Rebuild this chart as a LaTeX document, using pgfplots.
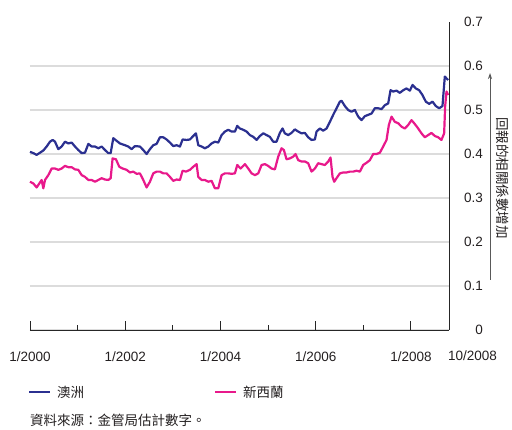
\documentclass[border=0pt]{standalone}
\usepackage{fontspec}
\setmainfont{Liberation Sans}
\newfontfamily\cjk{Noto Sans CJK TC}
\usepackage{pgfplots}
\pgfplotsset{compat=1.18}
\usetikzlibrary{arrows.meta}
\definecolor{aublue}{HTML}{2B3090}
\definecolor{nzpink}{HTML}{E8198B}
\definecolor{gridgray}{HTML}{DCDCDC}
\definecolor{txt}{HTML}{231F20}
\newcommand{\fs}{\fontsize{13.5}{16}\selectfont}
\begin{document}
\begin{tikzpicture}[x=1pt,y=1pt,font=\fs,text=txt]
\path[use as bounding box] (0,0) rectangle (512,429);
\begin{axis}[
  at={(30pt,99pt)}, anchor=south west,
  scale only axis, width=419pt, height=308pt,
  xmin=0, xmax=8.80, ymin=0, ymax=0.7,
  axis x line*=bottom, axis y line*=right,
  axis line style={-, draw=black!85, line width=0.9pt},
  xtick={0,2,4,6,8}, xticklabels={1/2000,1/2002,1/2004,1/2006,1/2008},
  minor xtick={1,3,5,7},
  tick align=inside,
  major tick length=9pt, minor tick length=5pt,
  x tick style={draw=black!85, line width=0.9pt},
  xticklabel style={font=\fs, text=txt, yshift=-18pt},
  ytick={0,0.1,0.2,0.3,0.4,0.5,0.6},
  yticklabels={0,0.1,0.2,0.3,0.4,0.5,0.6},
  extra y ticks={0.7}, extra y tick labels={0.7},
  extra y tick style={grid=none},
  ymajorgrids, grid style={gridgray, line width=2pt},
  y tick style={draw=none},
  yticklabel style={font=\fs, text=txt, anchor=east, xshift=37.5pt},
  clip=false,
]
\addplot[aublue, line width=2.2pt, line join=round] coordinates {
(0.000,0.405)(0.070,0.402)(0.140,0.398)(0.210,0.403)(0.280,0.408)(0.350,0.417)
(0.420,0.428)(0.476,0.432)(0.525,0.428)(0.595,0.411)(0.665,0.417)(0.735,0.428)
(0.805,0.424)(0.875,0.426)(0.945,0.417)(1.015,0.409)(1.085,0.402)(1.155,0.403)
(1.225,0.423)(1.295,0.417)(1.365,0.417)(1.435,0.413)(1.505,0.417)(1.575,0.409)
(1.645,0.402)(1.694,0.402)(1.749,0.436)(1.819,0.430)(1.889,0.424)(1.994,0.420)
(2.064,0.417)(2.134,0.411)(2.204,0.418)(2.309,0.417)(2.379,0.409)(2.449,0.400)
(2.519,0.411)(2.589,0.420)(2.659,0.423)(2.729,0.438)(2.799,0.438)(2.869,0.433)
(2.939,0.426)(3.009,0.418)(3.079,0.420)(3.149,0.417)(3.205,0.433)(3.289,0.432)
(3.359,0.433)(3.429,0.441)(3.485,0.447)(3.534,0.420)(3.604,0.417)(3.674,0.413)
(3.744,0.417)(3.814,0.424)(3.884,0.428)(3.954,0.426)(4.024,0.443)(4.094,0.451)
(4.164,0.455)(4.234,0.451)(4.304,0.451)(4.353,0.464)(4.409,0.458)(4.479,0.455)
(4.549,0.451)(4.619,0.443)(4.689,0.439)(4.759,0.432)(4.829,0.441)(4.899,0.447)
(4.969,0.443)(5.038,0.439)(5.108,0.428)(5.178,0.428)(5.248,0.448)(5.304,0.458)
(5.353,0.447)(5.423,0.443)(5.493,0.448)(5.563,0.456)(5.633,0.451)(5.703,0.447)
(5.773,0.448)(5.843,0.438)(5.913,0.432)(5.983,0.433)(6.018,0.451)(6.088,0.458)
(6.158,0.453)(6.228,0.458)(6.298,0.473)(6.368,0.489)(6.438,0.504)(6.508,0.519)
(6.543,0.521)(6.613,0.509)(6.683,0.500)(6.753,0.496)(6.823,0.500)(6.893,0.485)
(6.963,0.477)(7.033,0.486)(7.103,0.489)(7.173,0.492)(7.243,0.504)(7.313,0.504)
(7.383,0.502)(7.453,0.511)(7.523,0.515)(7.572,0.545)(7.628,0.542)(7.698,0.544)
(7.768,0.539)(7.838,0.545)(7.908,0.549)(7.978,0.544)(8.034,0.557)(8.104,0.549)
(8.173,0.545)(8.243,0.534)(8.313,0.519)(8.383,0.514)(8.453,0.519)(8.523,0.509)
(8.593,0.504)(8.663,0.509)(8.712,0.576)(8.747,0.572)(8.782,0.568)
};
\addplot[nzpink, line width=2.2pt, line join=round] coordinates {
(0.000,0.337)(0.070,0.333)(0.140,0.324)(0.196,0.333)(0.245,0.341)(0.280,0.322)
(0.315,0.341)(0.385,0.352)(0.455,0.367)(0.525,0.367)(0.595,0.364)(0.665,0.367)
(0.735,0.373)(0.805,0.370)(0.875,0.370)(0.945,0.365)(1.015,0.364)(1.085,0.352)
(1.155,0.348)(1.225,0.341)(1.295,0.341)(1.365,0.337)(1.435,0.341)(1.505,0.345)
(1.575,0.342)(1.645,0.341)(1.694,0.345)(1.735,0.390)(1.805,0.388)(1.875,0.371)
(1.945,0.367)(2.029,0.364)(2.099,0.358)(2.169,0.360)(2.239,0.355)(2.309,0.356)
(2.379,0.341)(2.449,0.324)(2.519,0.337)(2.589,0.356)(2.659,0.360)(2.729,0.360)
(2.799,0.356)(2.869,0.356)(2.939,0.348)(3.009,0.339)(3.079,0.342)(3.149,0.341)
(3.205,0.362)(3.275,0.360)(3.359,0.364)(3.429,0.371)(3.499,0.377)(3.534,0.348)
(3.604,0.341)(3.674,0.341)(3.744,0.337)(3.814,0.339)(3.884,0.322)(3.954,0.322)
(4.024,0.352)(4.094,0.356)(4.164,0.356)(4.234,0.355)(4.304,0.356)(4.353,0.375)
(4.423,0.367)(4.514,0.377)(4.584,0.367)(4.654,0.356)(4.724,0.352)(4.794,0.356)
(4.864,0.375)(4.934,0.377)(5.003,0.373)(5.073,0.367)(5.143,0.365)(5.213,0.394)
(5.283,0.413)(5.332,0.409)(5.388,0.388)(5.458,0.390)(5.528,0.394)(5.577,0.400)
(5.633,0.386)(5.703,0.383)(5.773,0.383)(5.843,0.379)(5.913,0.360)(5.983,0.367)
(6.053,0.379)(6.123,0.377)(6.193,0.375)(6.263,0.383)(6.312,0.392)(6.354,0.348)
(6.389,0.337)(6.438,0.345)(6.508,0.356)(6.578,0.358)(6.648,0.358)(6.718,0.360)
(6.788,0.360)(6.858,0.362)(6.928,0.360)(6.998,0.375)(7.068,0.380)(7.138,0.386)
(7.208,0.400)(7.278,0.400)(7.348,0.403)(7.418,0.417)(7.488,0.432)(7.537,0.466)
(7.593,0.485)(7.663,0.473)(7.733,0.470)(7.803,0.462)(7.873,0.458)(7.943,0.466)
(8.013,0.477)(8.083,0.468)(8.153,0.458)(8.222,0.447)(8.292,0.438)(8.362,0.443)
(8.432,0.448)(8.502,0.441)(8.572,0.438)(8.642,0.432)(8.698,0.447)(8.719,0.508)
(8.747,0.542)(8.782,0.534)
};
\end{axis}
\node[anchor=west, inner sep=0] at (448,73) {10/2008};
\draw[-{Stealth[length=6pt,width=4pt]}, black!65, line width=0.8pt] (490,149) -- (490,356);
\node[rotate=-90, inner sep=0] at (503,251) {\cjk 回報的相關係數增加};
\draw[aublue, line width=2pt] (29,37) -- (50,37);
\node[anchor=west, inner sep=0] at (57,37) {\cjk 澳洲};
\draw[nzpink, line width=2pt] (215,37) -- (236,37);
\node[anchor=west, inner sep=0] at (243,37) {\cjk 新西蘭};
\node[anchor=west, inner sep=0] at (30,9) {\cjk 資料來源：金管局估計數字。};
\end{tikzpicture}
\end{document}
